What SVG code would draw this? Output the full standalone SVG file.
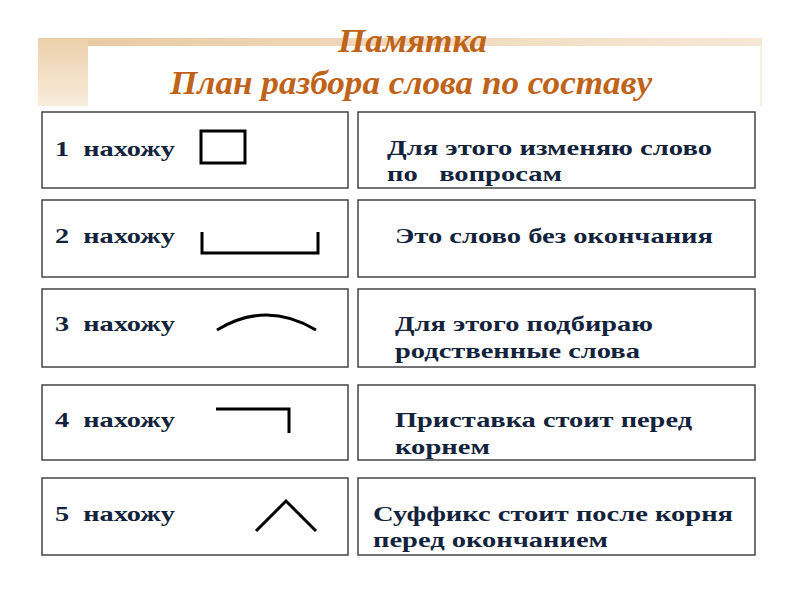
<svg xmlns="http://www.w3.org/2000/svg" width="800" height="600" viewBox="0 0 800 600">
<defs>
<linearGradient id="band" x1="0" y1="0" x2="1" y2="0"><stop offset="0" stop-color="#e8c9a0"/><stop offset="1" stop-color="#f6e8d6"/></linearGradient>
<linearGradient id="side" x1="0" y1="0" x2="0" y2="1"><stop offset="0" stop-color="#ecd0aa"/><stop offset="1" stop-color="#f8ecdc"/></linearGradient>
</defs>
<style>
.box{fill:#fff;stroke:#444;stroke-width:1.5}
.t{font-family:"Liberation Serif",serif;font-weight:bold;font-size:21px;fill:#13233d;white-space:pre}
.h{font-family:"Liberation Serif",serif;font-weight:bold;font-style:italic;font-size:34px;fill:#c0631a}
.s{fill:none;stroke:#000;stroke-width:3}
</style>
<rect width="800" height="600" fill="#fff"/>
<rect x="38" y="38" width="724" height="8" fill="url(#band)"/>
<rect x="38" y="38" width="50" height="68" fill="url(#side)"/>
<rect x="88" y="46" width="674" height="60" fill="#fff"/>
<line x1="761" y1="46" x2="761" y2="106" stroke="#f0dcc4" stroke-width="1"/>
<text class="h" x="338" y="52" textLength="149" lengthAdjust="spacingAndGlyphs">Памятка</text>
<text class="h" x="170" y="94" textLength="482" lengthAdjust="spacingAndGlyphs">План разбора слова по составу</text>
<g id="n1"><rect class="box" x="42" y="112" width="306" height="76"/><text class="t" x="55" y="156" textLength="120" lengthAdjust="spacingAndGlyphs">1  нахожу</text><rect class="s" x="201" y="131" width="44" height="32"/></g>
<g id="r1"><rect class="box" x="358" y="112" width="397" height="76"/><text class="t" x="387" y="155" textLength="325" lengthAdjust="spacingAndGlyphs">Для этого изменяю слово</text><text class="t" x="387" y="181" textLength="175" lengthAdjust="spacingAndGlyphs">по   вопросам</text></g>
<g id="n2"><rect class="box" x="42" y="200" width="306" height="77"/><text class="t" x="55" y="243" textLength="120" lengthAdjust="spacingAndGlyphs">2  нахожу</text><path class="s" d="M202 232V253H318V232"/></g>
<g id="r2"><rect class="box" x="358" y="200" width="397" height="77"/><text class="t" x="395" y="243" textLength="318" lengthAdjust="spacingAndGlyphs">Это слово без окончания</text></g>
<g id="n3"><rect class="box" x="42" y="289" width="306" height="78"/><text class="t" x="55" y="331" textLength="120" lengthAdjust="spacingAndGlyphs">3  нахожу</text><path class="s" d="M217 330Q266 300 316 330"/></g>
<g id="r3"><rect class="box" x="358" y="289" width="397" height="78"/><text class="t" x="395" y="331" textLength="258" lengthAdjust="spacingAndGlyphs">Для этого подбираю</text><text class="t" x="395" y="358" textLength="245" lengthAdjust="spacingAndGlyphs">родственные слова</text></g>
<g id="n4"><rect class="box" x="42" y="385" width="306" height="75"/><text class="t" x="55" y="427" textLength="120" lengthAdjust="spacingAndGlyphs">4  нахожу</text><path class="s" d="M216 409H289V433"/></g>
<g id="r4"><rect class="box" x="358" y="385" width="397" height="75"/><text class="t" x="395" y="427" textLength="297" lengthAdjust="spacingAndGlyphs">Приставка стоит перед</text><text class="t" x="395" y="454" textLength="95" lengthAdjust="spacingAndGlyphs">корнем</text></g>
<g id="n5"><rect class="box" x="42" y="478" width="306" height="77"/><text class="t" x="55" y="521" textLength="120" lengthAdjust="spacingAndGlyphs">5  нахожу</text><path class="s" d="M256 531L286 501L316 531"/></g>
<g id="r5"><rect class="box" x="358" y="478" width="397" height="77"/><text class="t" x="373" y="521" textLength="360" lengthAdjust="spacingAndGlyphs">Суффикс стоит после корня</text><text class="t" x="373" y="547" textLength="235" lengthAdjust="spacingAndGlyphs">перед окончанием</text></g>
</svg>
